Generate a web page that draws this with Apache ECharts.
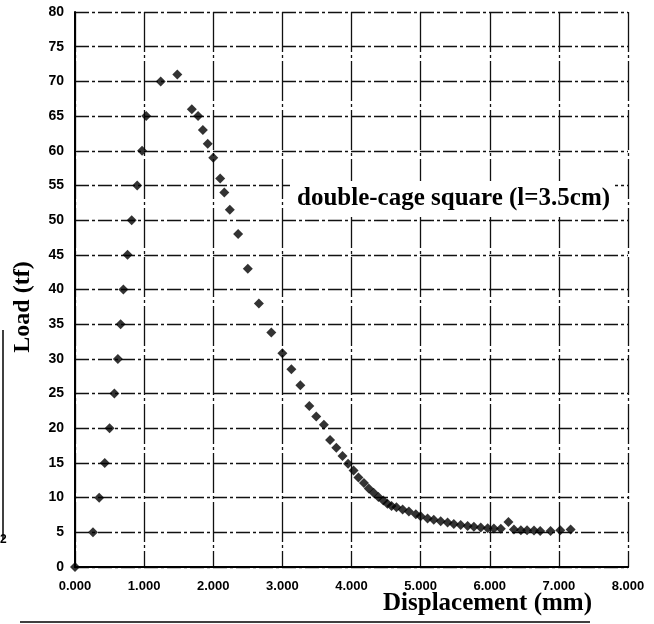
<!DOCTYPE html>
<html><head><meta charset="utf-8">
<script src="https://cdn.jsdelivr.net/npm/echarts@6/dist/echarts.min.js"></script>
<style>html,body{margin:0;padding:0;background:#fff}#c{width:654px;height:624px}</style>
</head><body><div id="c"></div>
<script>
const displacement = [0, 0.26, 0.35, 0.43, 0.50, 0.57, 0.62, 0.66, 0.70, 0.76, 0.82, 0.90, 0.97, 1.03, 1.24, 1.48,
  1.69, 1.78, 1.85, 1.92, 2.00, 2.10, 2.16, 2.24, 2.36, 2.50, 2.66, 2.84, 3.00, 3.13, 3.26, 3.39, 3.49, 3.60,
  3.69, 3.78, 3.87, 3.95, 4.03, 4.10, 4.18, 4.25, 4.32, 4.39, 4.46, 4.52, 4.58, 4.65, 4.74, 4.83, 4.93, 5.00,
  5.10, 5.19, 5.29, 5.39, 5.48, 5.58, 5.68, 5.77, 5.87, 5.97, 6.06, 6.16, 6.27, 6.35, 6.45, 6.54, 6.64, 6.73,
  6.88, 7.02, 7.17];
const load = [0, 5, 10, 15, 20, 25, 30, 35, 40, 45, 50, 55, 60, 65, 70, 71,
  66, 65, 63, 61, 59, 56, 54, 51.5, 48, 43, 38, 33.8, 30.8, 28.5, 26.2, 23.2, 21.7, 20.5,
  18.3, 17.2, 16, 14.9, 13.9, 12.9, 12.1, 11.3, 10.7, 10.1, 9.6, 9.1, 8.8, 8.6, 8.3, 8.0, 7.6, 7.3,
  7.0, 6.8, 6.6, 6.4, 6.2, 6.05, 5.9, 5.8, 5.7, 5.6, 5.55, 5.5, 6.5, 5.4, 5.3, 5.3, 5.25, 5.2,
  5.2, 5.3, 5.4];
const xTickLabels = ['0.000', '1.000', '2.000', '3.000', '4.000', '5.000', '6.000', '7.000', '8.000'];
const yTickLabels = ['0', '5', '10', '15', '20', '25', '30', '35', '40', '45', '50', '55', '60', '65', '70', '75', '80'];
const xName = 'Displacement (mm)';
const yName = 'Load (tf)';
const annotation = 'double-cage square (l=3.5cm)';

const points = displacement.map((d, i) => [d, load[i]]);
const chart = echarts.init(document.getElementById('c'), null, {renderer: 'canvas'});
chart.setOption({
  animation: false,
  backgroundColor: '#fff',
  grid: {left: 75, right: 26, top: 12, bottom: 57, containLabel: false},
  xAxis: [{
    type: 'value', min: 0, max: 8, interval: 1,
    axisLine: {show: true, onZero: false, lineStyle: {color: '#000', width: 2}},
    axisTick: {show: false},
    axisLabel: {color: '#000', fontFamily: 'Liberation Sans', fontWeight: 'bold', fontSize: 13, margin: 13,
      formatter: v => xTickLabels[Math.round(v)]},
    splitLine: {show: true, lineStyle: {color: '#111', width: 1.3, type: [40, 3, 3, 3]}}
  }, {
    type: 'value', min: 0, max: 8, interval: 1, position: 'top',
    axisLine: {show: true, lineStyle: {color: '#000', width: 2}},
    axisTick: {show: false}, axisLabel: {show: false}, splitLine: {show: false}
  }],
  yAxis: {
    type: 'value', min: 0, max: 80, interval: 5,
    axisLine: {show: true, onZero: false, lineStyle: {color: '#000', width: 2}},
    axisTick: {show: false},
    axisLabel: {color: '#000', fontFamily: 'Liberation Sans', fontWeight: 'bold', fontSize: 14, margin: 11,
      formatter: v => yTickLabels[Math.round(v / 5)]},
    splitLine: {show: true, lineStyle: {color: '#111', width: 1.3, type: [14, 3, 3, 3]}}
  },
  graphic: [
    {type: 'rect', shape: {x: 290, y: 181, width: 325, height: 36}, style: {fill: '#fff'}, z: 10},
    {type: 'text', x: 297, y: 199, z: 11,
      style: {text: annotation, font: 'bold 25px "Liberation Serif"', fill: '#000', textVerticalAlign: 'middle'}},
    {type: 'text', x: 383, y: 604, z: 11,
      style: {text: xName, font: 'bold 25px "Liberation Serif"', fill: '#000', textVerticalAlign: 'middle'}},
    {type: 'text', x: 23, y: 307, rotation: Math.PI / 2, z: 11,
      style: {text: yName, font: 'bold 24px "Liberation Serif"', fill: '#000', textAlign: 'center', textVerticalAlign: 'middle'}},
    {type: 'text', x: 0, y: 540, z: 11,
      style: {text: '2', font: 'bold 12px "Liberation Sans"', fill: '#000', textVerticalAlign: 'middle'}},
    {type: 'line', shape: {x1: 3, y1: 330, x2: 3, y2: 540}, style: {stroke: '#000', lineWidth: 1.5}},
    {type: 'line', shape: {x1: 20, y1: 622, x2: 590, y2: 622}, style: {stroke: '#000', lineWidth: 1.5}}
  ],
  series: [{
    type: 'scatter', data: points, symbol: 'diamond', symbolSize: 10,
    itemStyle: {color: '#000'}, z: 5
  }]
});
</script></body></html>
